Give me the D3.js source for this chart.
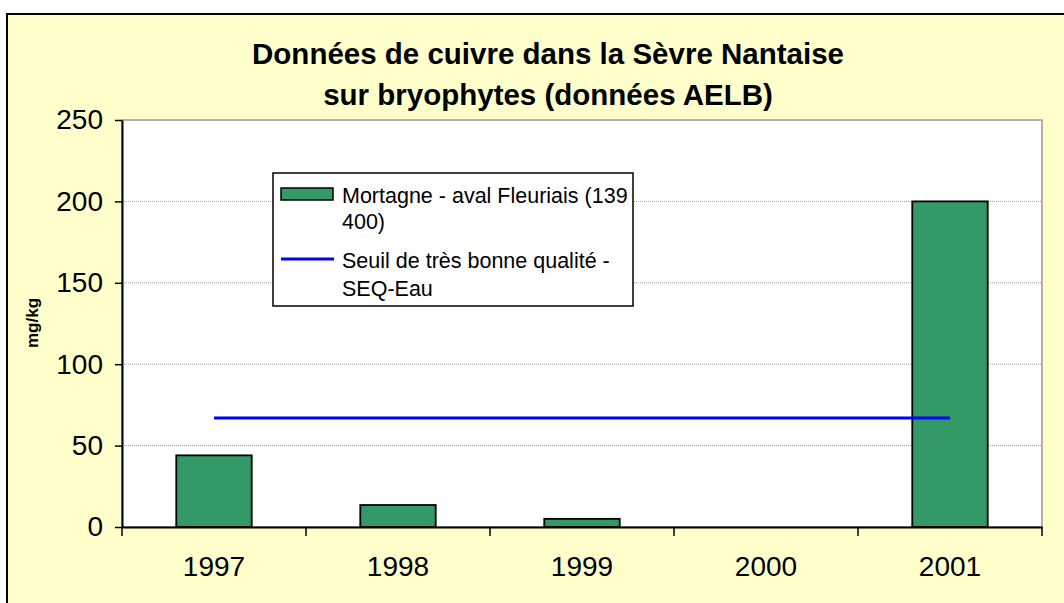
<!DOCTYPE html>
<html>
<head>
<meta charset="utf-8">
<script src="https://cdn.jsdelivr.net/npm/d3@7"></script>
<style>
  html, body { margin: 0; padding: 0; background: #ffffff; }
  svg { display: block; font-family: Arial, "Liberation Sans", sans-serif; }
</style>
</head>
<body>
<svg id="chart" width="1064" height="603"></svg>
<script>
// Copper concentrations in bryophytes, Sèvre Nantaise (AELB data)
const categories = ["1997", "1998", "1999", "2000", "2001"];
const copperValues = [44, 13.5, 5, null, 200];
const thresholdValues = [67, 67, 67, 67, 67];
const yTicks = [0, 50, 100, 150, 200, 250];
const titleLines = ["Données de cuivre dans la Sèvre Nantaise", "sur bryophytes (données AELB)"];
const yAxisTitle = "mg/kg";
const seriesNames = [["Mortagne - aval Fleuriais (139", "400)"], ["Seuil de très bonne qualité -", "SEQ-Eau"]];

const svg = d3.select("#chart");
const W = 1064, H = 603;
const plot = { left: 122, top: 120, right: 1042, bottom: 527 };
const FONT = "Arial, 'Liberation Sans', sans-serif";

// chart area background and frame
svg.append("rect").attr("x", 7).attr("y", 14).attr("width", W + 10).attr("height", H + 10)
  .attr("fill", "#FFFFCC").attr("stroke", "#000").attr("stroke-width", 2);

const x = d3.scaleBand().domain(categories).range([plot.left, plot.right]).padding(0);
const y = d3.scaleLinear().domain([0, 250]).range([plot.bottom, plot.top]);
const barW = x.bandwidth() * 0.41;

// plot area
svg.append("rect").attr("x", plot.left).attr("y", plot.top)
  .attr("width", plot.right - plot.left).attr("height", plot.bottom - plot.top)
  .attr("fill", "#fff").attr("stroke", "#999").attr("stroke-width", 1.5);

// gridlines
svg.append("g").selectAll("line").data(yTicks.filter(t => t > 0 && t < 250)).join("line")
  .attr("x1", plot.left).attr("x2", plot.right)
  .attr("y1", d => y(d)).attr("y2", d => y(d))
  .attr("stroke", "#999").attr("stroke-width", 1).attr("stroke-dasharray", "1,1");

// bars
const barData = categories.map((c, i) => ({ c, v: copperValues[i] })).filter(d => d.v != null);
svg.append("g").selectAll("rect").data(barData).join("rect")
  .attr("x", d => x(d.c) + x.bandwidth() / 2 - barW / 2)
  .attr("y", d => y(d.v))
  .attr("width", barW)
  .attr("height", d => y(0) - y(d.v))
  .attr("fill", "#339966").attr("stroke", "#000").attr("stroke-width", 1.8);

// threshold line
const line = d3.line().x(d => x(d.c) + x.bandwidth() / 2).y(d => y(d.v));
svg.append("path")
  .datum(categories.map((c, i) => ({ c, v: thresholdValues[i] })))
  .attr("d", line).attr("fill", "none").attr("stroke", "#0000FF").attr("stroke-width", 3);

// y axis
const yAxis = svg.append("g").attr("transform", `translate(${plot.left},0)`)
  .call(d3.axisLeft(y).tickValues(yTicks).tickSize(7).tickPadding(12).tickSizeOuter(0));
yAxis.select(".domain").attr("stroke", "#000").attr("stroke-width", 2);
yAxis.selectAll(".tick line").attr("stroke", "#000").attr("stroke-width", 1.5);
yAxis.selectAll(".tick text").attr("font-size", 28).attr("fill", "#000").attr("font-family", FONT);

// x axis with ticks at category boundaries
const xAxis = svg.append("g").attr("transform", `translate(0,${plot.bottom})`)
  .call(d3.axisBottom(x).tickSize(0).tickPadding(29).tickSizeOuter(0));
xAxis.select(".domain").attr("stroke", "#000").attr("stroke-width", 2);
xAxis.selectAll(".tick text").attr("font-size", 28).attr("fill", "#000").attr("font-family", FONT);
const bounds = categories.map(c => x(c)).concat([plot.right]);
xAxis.append("g").selectAll("line").data(bounds).join("line")
  .attr("x1", d => d).attr("x2", d => d).attr("y1", 0).attr("y2", 9)
  .attr("stroke", "#000").attr("stroke-width", 1.5);

// title
svg.append("g").selectAll("text").data(titleLines).join("text")
  .attr("x", 548).attr("y", (d, i) => 64 + i * 41)
  .attr("text-anchor", "middle").attr("font-size", 29.5).attr("font-weight", "bold")
  .text(d => d);

// y axis title
svg.append("text").attr("transform", "translate(38,323) rotate(-90)")
  .attr("text-anchor", "middle").attr("font-size", 17).attr("font-weight", "bold")
  .text(yAxisTitle);

// legend
const lg = svg.append("g");
lg.append("rect").attr("x", 273).attr("y", 173).attr("width", 360).attr("height", 133)
  .attr("fill", "#fff").attr("stroke", "#000").attr("stroke-width", 1.5);
lg.append("rect").attr("x", 281).attr("y", 188).attr("width", 52).attr("height", 12)
  .attr("fill", "#339966").attr("stroke", "#000").attr("stroke-width", 1.5);
lg.append("line").attr("x1", 281).attr("x2", 334).attr("y1", 259).attr("y2", 259)
  .attr("stroke", "#0000FF").attr("stroke-width", 3);
const rowY = [[203, 229], [268, 296]];
seriesNames.forEach((lines, i) => {
  lines.forEach((t, j) => {
    lg.append("text").attr("x", 342).attr("y", rowY[i][j]).attr("font-size", 21.5).text(t);
  });
});
</script>
</body>
</html>
